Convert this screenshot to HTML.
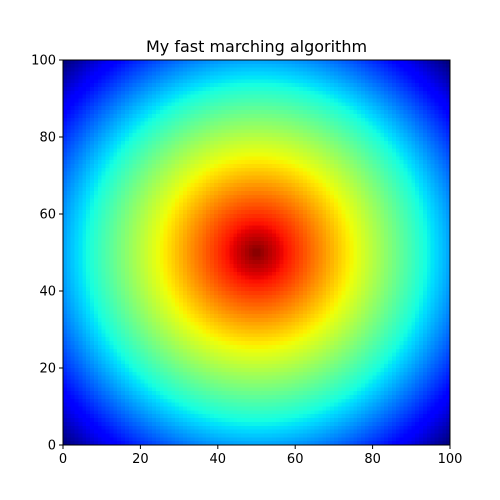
<!DOCTYPE html>
<html><head><meta charset="utf-8"><style>
body{margin:0;background:#fff;width:500px;height:500px;overflow:hidden;position:relative;font-family:"DejaVu Sans","Liberation Sans",sans-serif}
#heat{position:absolute;left:63px;top:60px;width:387px;height:385px;image-rendering:pixelated}
svg{position:absolute;left:0;top:0}
</style></head><body>
<canvas id="heat" width="100" height="100"></canvas>
<svg width="500" height="500">
<text x="256.5" y="52" text-anchor="middle" font-size="16">My fast marching algorithm</text>
<rect x="63" y="60" width="387" height="385" fill="none" stroke="#000" stroke-width="1"/>
<g id="ticks" font-size="13"></g>
</svg>
<script>
const gridSize = [100, 100];
const sourcePoint = [50, 50];
const xTicks = [0, 20, 40, 60, 80, 100];
const yTicks = [0, 20, 40, 60, 80, 100];
const X0=63,X1=450,Y0=445,Y1=60;
const xs=v=>X0+(v/100)*(X1-X0), ys=v=>Y0-(v/100)*(Y0-Y1);
const RS=[[0,0],[0.35,0],[0.66,1],[0.89,1],[1,0.5]];
const GS=[[0,0],[0.125,0],[0.375,1],[0.64,1],[0.91,0],[1,0]];
const BS=[[0,0.5],[0.11,1],[0.34,1],[0.65,0],[1,0]];
function seg(s,t){for(let k=1;k<s.length;k++){if(t<=s[k][0]){const a=s[k-1],b=s[k];return a[1]+(b[1]-a[1])*(t-a[0])/(b[0]-a[0]);}}return s[s.length-1][1];}
function jet(t){return [Math.round(seg(RS,t)*255),Math.round(seg(GS,t)*255),Math.round(seg(BS,t)*255)];}
const W=gridSize[0],H=gridSize[1];
const dist=[];let dmax=0;
for(let j=0;j<H;j++)for(let i=0;i<W;i++){const d=Math.hypot(i+0.5-sourcePoint[0],j+0.5-sourcePoint[1]);dist.push(d);if(d>dmax)dmax=d;}
const ctx=document.getElementById('heat').getContext('2d');
const img=ctx.createImageData(W,H);
for(let j=0;j<H;j++)for(let i=0;i<W;i++){
  const t=1-dist[j*W+i]/dmax;const [r,g,b]=jet(t);
  const row=H-1-j;const k=(row*W+i)*4;
  img.data[k]=r;img.data[k+1]=g;img.data[k+2]=b;img.data[k+3]=255;
}
ctx.putImageData(img,0,0);
const g=document.getElementById('ticks');const NS='http://www.w3.org/2000/svg';
xTicks.forEach(v=>{
  const l=document.createElementNS(NS,'line');l.setAttribute('x1',xs(v));l.setAttribute('x2',xs(v));l.setAttribute('y1',Y0);l.setAttribute('y2',Y0+4);l.setAttribute('stroke','#000');
  
  g.appendChild(l);
  const t=document.createElementNS(NS,'text');t.setAttribute('x',xs(v));t.setAttribute('y',Y0+18);t.setAttribute('text-anchor','middle');t.textContent=v;
  
  g.appendChild(t);
});
yTicks.forEach(v=>{
  const l=document.createElementNS(NS,'line');l.setAttribute('x1',X0-4);l.setAttribute('x2',X0);l.setAttribute('y1',ys(v));l.setAttribute('y2',ys(v));l.setAttribute('stroke','#000');
  
  g.appendChild(l);
  const t=document.createElementNS(NS,'text');t.setAttribute('x',X0-7);t.setAttribute('y',ys(v)+4.5);t.setAttribute('text-anchor','end');t.textContent=v;
  
  g.appendChild(t);
});
</script>
</body></html>
